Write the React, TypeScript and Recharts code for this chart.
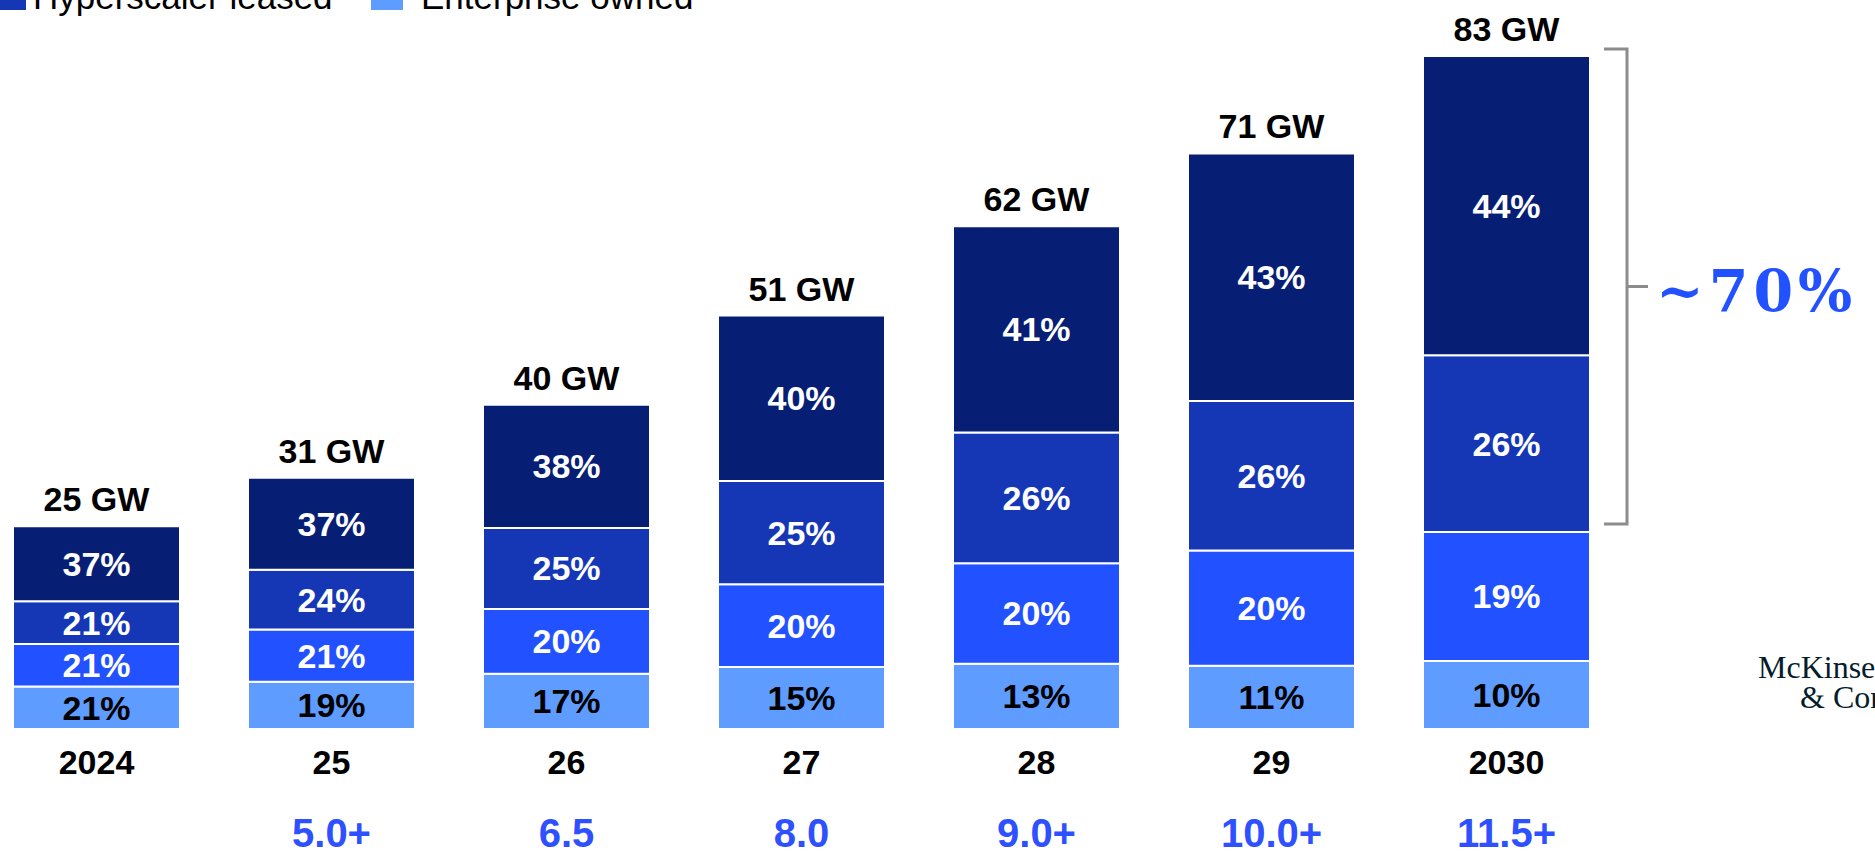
import { BarChart, Bar, XAxis, YAxis, LabelList } from 'recharts';

const years = ['2024', '25', '26', '27', '28', '29', '2030'];
const totalGW = [25, 31, 40, 51, 62, 71, 83];
// shares of each year's total, top segment first
const selfBuildPct = [37, 37, 38, 40, 41, 43, 44];
const leasedPct = [21, 24, 25, 25, 26, 26, 26];
const colocationPct = [21, 21, 20, 20, 20, 20, 19];
const enterprisePct = [21, 19, 17, 15, 13, 11, 10];
const capacityLabels = ['', '5.0+', '6.5', '8.0', '9.0+', '10.0+', '11.5+'];
const bracketLabel = '~70%';

const NAVY = '#061e74';
const MID = '#1537b6';
const BRIGHT = '#2251ff';
const LIGHT = '#5e9cff';
const FONT = '"Liberation Sans", Arial, sans-serif';

const data = years.map((year, i) => {
  const sum = selfBuildPct[i] + leasedPct[i] + colocationPct[i] + enterprisePct[i];
  const gw = (p: number) => (totalGW[i] * p) / sum;
  return {
    year,
    total: totalGW[i],
    enterprise: gw(enterprisePct[i]),
    colocation: gw(colocationPct[i]),
    leased: gw(leasedPct[i]),
    selfBuild: gw(selfBuildPct[i]),
    enterprisePct: enterprisePct[i],
    colocationPct: colocationPct[i],
    leasedPct: leasedPct[i],
    selfBuildPct: selfBuildPct[i],
  };
});

const pctLabel = (color: string) => (props: any) => {
  const { x, y, width, height, value } = props;
  return (
    <text
      x={x + width / 2}
      y={y + height / 2}
      dy={12}
      textAnchor="middle"
      fill={color}
      fontFamily={FONT}
      fontWeight="bold"
      fontSize={34}
    >
      {value}%
    </text>
  );
};

const TotalLabel = (props: any) => {
  const { x, y, width, index } = props;
  return (
    <text
      x={x + width / 2}
      y={y - 15}
      textAnchor="middle"
      fill="#000"
      fontFamily={FONT}
      fontWeight="bold"
      fontSize={34}
    >
      {totalGW[index]} GW
    </text>
  );
};

const Bracket = (props: any) => {
  const { x, y, width, height, index } = props;
  if (index !== years.length - 1) return null;
  const right = x + width;
  const top = y - 7;
  const bottom = y + height + (height * leasedPct[index]) / selfBuildPct[index] - 8;
  const vx = right + 37;
  const mid = (top + bottom) / 2;
  return (
    <g>
      <path
        d={`M${right + 14},${top} H${vx} V${bottom} H${right + 14}`}
        fill="none"
        stroke="#8c8c8c"
        strokeWidth={3}
      />
      <path d={`M${vx},${mid} H${vx + 21}`} stroke="#8c8c8c" strokeWidth={3} />
      <text
        x={vx + 29}
        y={mid + 25}
        fill={BRIGHT}
        fontFamily='"DejaVu Serif", Georgia, serif'
        fontWeight="bold"
        fontSize={57}
        letterSpacing={5}
      >
        {bracketLabel}
      </text>
    </g>
  );
};

const YearTick = (props: any) => {
  const { x, y, payload, index } = props;
  return (
    <g>
      <text x={x} y={y + 45} textAnchor="middle" fill="#000" fontFamily={FONT} fontWeight="bold" fontSize={34}>
        {payload.value}
      </text>
      <text x={x} y={y + 118} textAnchor="middle" fill="#2e50ff" fontFamily={FONT} fontWeight="bold" fontSize={40}>
        {capacityLabels[index]}
      </text>
    </g>
  );
};

export default function App() {
  return (
    <div style={{ position: 'absolute', top: 0, left: 0, width: 1875, height: 853, background: '#fff' }}>
      <BarChart
        width={1875}
        height={853}
        data={data}
        margin={{ top: 48, right: 251, bottom: 64, left: -21 }}
        barSize={167}
      >
        <XAxis
          dataKey="year"
          axisLine={false}
          tickLine={false}
          tickSize={0}
          tickMargin={0}
          height={60}
          interval={0}
          tick={<YearTick />}
        />
        <YAxis hide domain={[0, 84]} />
        <Bar dataKey="enterprise" stackId="a" fill={LIGHT} stroke="#fff" strokeWidth={2} isAnimationActive={false}>
          <LabelList dataKey="enterprisePct" content={pctLabel('#000')} />
        </Bar>
        <Bar dataKey="colocation" stackId="a" fill={BRIGHT} stroke="#fff" strokeWidth={2} isAnimationActive={false}>
          <LabelList dataKey="colocationPct" content={pctLabel('#fff')} />
        </Bar>
        <Bar dataKey="leased" stackId="a" fill={MID} stroke="#fff" strokeWidth={2} isAnimationActive={false}>
          <LabelList dataKey="leasedPct" content={pctLabel('#fff')} />
        </Bar>
        <Bar dataKey="selfBuild" stackId="a" fill={NAVY} stroke="#fff" strokeWidth={2} isAnimationActive={false}>
          <LabelList dataKey="selfBuildPct" content={pctLabel('#fff')} />
          <LabelList dataKey="total" content={TotalLabel} />
          <LabelList dataKey="total" content={Bracket} />
        </Bar>
      </BarChart>

      {/* legend is cropped at the top edge, logo at the right edge */}
      <svg width={1875} height={853} style={{ position: 'absolute', top: 0, left: 0, pointerEvents: 'none' }}>
        <rect x={-4} y={-20} width={30} height={30} fill={MID} />
        <text x={33} y={9} fontFamily={FONT} fontSize={35} fill="#000">Hyperscaler leased</text>
        <rect x={371} y={-20} width={32} height={30} fill={LIGHT} />
        <text x={421} y={9} fontFamily={FONT} fontSize={35} fill="#000">Enterprise owned</text>
        <text x={1758} y={678} fontFamily='"Liberation Serif", "Times New Roman", serif' fontSize={32} fill="#051c2c">McKinsey</text>
        <text x={1800} y={708} fontFamily='"Liberation Serif", "Times New Roman", serif' fontSize={32} fill="#051c2c">&amp; Company</text>
      </svg>
    </div>
  );
}
